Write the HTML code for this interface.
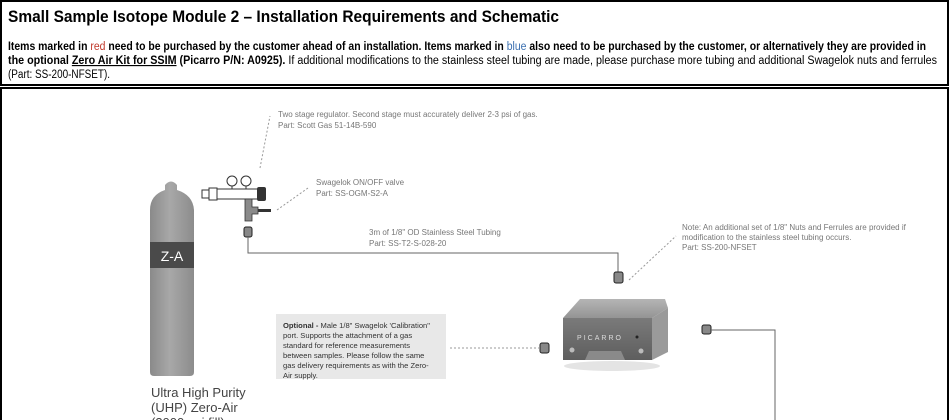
<!DOCTYPE html>
<html><head><meta charset="utf-8"><style>
html,body{margin:0;padding:0;background:#fff;width:950px;height:420px;overflow:hidden}
svg{display:block}
</style></head><body>
<svg width="950" height="420" viewBox="0 0 950 420" xmlns="http://www.w3.org/2000/svg" font-family="Liberation Sans, sans-serif">
<defs>
<linearGradient id="cyl" x1="0" x2="1"><stop offset="0" stop-color="#8a8a8a"/><stop offset="0.45" stop-color="#a8a8a8"/><stop offset="1" stop-color="#8c8c8c"/></linearGradient>
<linearGradient id="front" x1="0" y1="0" x2="0" y2="1"><stop offset="0" stop-color="#7a7a7a"/><stop offset="1" stop-color="#5e5e5e"/></linearGradient>
<linearGradient id="topf" x1="0" y1="0" x2="0" y2="1"><stop offset="0" stop-color="#b5b5b5"/><stop offset="1" stop-color="#949494"/></linearGradient>
</defs>
<rect x="1" y="1" width="947" height="84" fill="none" stroke="#000" stroke-width="2"/>
<rect x="1" y="88" width="947" height="340" fill="none" stroke="#000" stroke-width="2"/>
<text x="8" y="22" font-size="17" font-weight="bold" textLength="551" lengthAdjust="spacingAndGlyphs">Small Sample Isotope Module 2 – Installation Requirements and Schematic</text>
<text x="8" y="50" font-size="11.5" font-weight="bold" textLength="918" lengthAdjust="spacingAndGlyphs">Items marked in <tspan fill="#c0392b" font-weight="normal">red</tspan> need to be purchased by the customer ahead of an installation. Items marked in <tspan fill="#3a6fb0" font-weight="normal">blue</tspan> also need to be purchased by the customer, or alternatively they are provided in</text>
<text x="8" y="64" font-size="11.5" textLength="929" lengthAdjust="spacingAndGlyphs"><tspan font-weight="bold">the optional <tspan text-decoration="underline">Zero Air Kit for SSIM</tspan> (Picarro P/N: A0925).</tspan> If additional modifications to the stainless steel tubing are made, please purchase more tubing and additional Swagelok nuts and ferrules</text>
<text x="8" y="78" font-size="11.5" textLength="102" lengthAdjust="spacingAndGlyphs">(Part: SS-200-NFSET).</text>

<path d="M150 210 Q150 195 165 190 L165 185 Q171 178 177 185 L177 190 Q193 195 194 210 L194 372 Q194 376 190 376 L154 376 Q150 376 150 372 Z" fill="url(#cyl)"/>
<rect x="150" y="242" width="44" height="26" fill="#4a4a4a"/>
<text x="172" y="261" font-size="14" fill="#fff" text-anchor="middle">Z-A</text>
<text x="151" y="397" font-size="13" fill="#444">Ultra High Purity</text>
<text x="151" y="412" font-size="13" fill="#444">(UHP) Zero-Air</text>
<text x="151" y="427" font-size="13" fill="#444">(3000 psi fill)</text>

<rect x="202" y="190" width="8" height="8" fill="#fff" stroke="#333" stroke-width="1"/>
<rect x="209" y="188" width="8" height="12" fill="#fff" stroke="#333" stroke-width="1"/>
<rect x="217" y="189" width="42" height="10" fill="#fff" stroke="#333" stroke-width="1"/>
<rect x="257" y="187" width="9" height="14" rx="2" fill="#333"/>
<line x1="232" y1="186" x2="232" y2="189" stroke="#333"/><line x1="246" y1="186" x2="246" y2="189" stroke="#333"/>
<circle cx="232" cy="181" r="5" fill="#fff" stroke="#333"/><circle cx="246" cy="181" r="5" fill="#fff" stroke="#333"/>
<path d="M245 199 h7 v8 h6 v7 h-6 v7 h-7 Z" fill="#8a8a8a" stroke="#333" stroke-width="0.8"/>
<rect x="258" y="209" width="13" height="3" fill="#333"/>
<rect x="244" y="227" width="8" height="10" rx="2" fill="#888" stroke="#222"/>
<polyline points="248,237 248,253 618,253 618,272" fill="none" stroke="#666" stroke-width="1"/>
<rect x="614" y="272" width="9" height="11" rx="2" fill="#888" stroke="#222"/>

<g stroke="#999" stroke-width="1" stroke-dasharray="2,2" fill="none">
<line x1="260" y1="168" x2="270" y2="116"/>
<line x1="277" y1="210" x2="308" y2="188"/>
<line x1="629" y1="280" x2="676" y2="236"/>
<line x1="450" y1="348" x2="539" y2="348"/>
</g>
<g font-size="8" fill="#777">
<text x="278" y="117">Two stage regulator. Second stage must accurately deliver 2-3 psi of gas.</text>
<text x="278" y="128">Part: Scott Gas 51-14B-590</text>
<text x="316" y="185">Swagelok ON/OFF valve</text>
<text x="316" y="196">Part: SS-OGM-S2-A</text>
<text x="369" y="235">3m of 1/8" OD Stainless Steel Tubing</text>
<text x="369" y="246">Part: SS-T2-S-028-20</text>
<text x="682" y="230">Note: An additional set of 1/8" Nuts and Ferrules are provided if</text>
<text x="682" y="240">modification to the stainless steel tubing occurs.</text>
<text x="682" y="250">Part: SS-200-NFSET</text>
</g>

<rect x="276" y="314" width="170" height="65" fill="#e8e8e8"/>
<g font-size="7.6" fill="#333">
<text x="283" y="328"><tspan font-weight="bold">Optional -</tspan> Male 1/8" Swagelok 'Calibration"</text>
<text x="283" y="338">port. Supports the attachment of a gas</text>
<text x="283" y="348">standard for reference measurements</text>
<text x="283" y="358">between samples. Please follow the same</text>
<text x="283" y="368">gas delivery requirements as with the Zero-</text>
<text x="283" y="378">Air supply.</text>
</g>
<rect x="540" y="343" width="9" height="10" rx="2" fill="#888" stroke="#222"/>

<ellipse cx="612" cy="366" rx="48" ry="5" fill="#e4e4e4"/>
<polygon points="580,299 665,299 668,308 652,318 563,318" fill="url(#topf)"/>
<polygon points="652,318 668,308 668,352 652,360" fill="#9a9a9a"/>
<rect x="563" y="318" width="89" height="42" fill="url(#front)"/>
<text x="600" y="340" font-size="7" fill="#ddd" letter-spacing="2" text-anchor="middle">PICARRO</text>
<circle cx="637" cy="337" r="1.5" fill="#222"/>
<circle cx="572" cy="350" r="2.5" fill="#bbb"/><circle cx="641" cy="351" r="2.5" fill="#bbb"/>
<path d="M585 360 l4 -9 h32 l4 9 Z" fill="#8a8a8a"/>

<rect x="702" y="325" width="9" height="9" rx="2" fill="#888" stroke="#222"/>
<polyline points="711,330 775,330 775,420" fill="none" stroke="#666" stroke-width="1"/>
</svg>
</body></html>
